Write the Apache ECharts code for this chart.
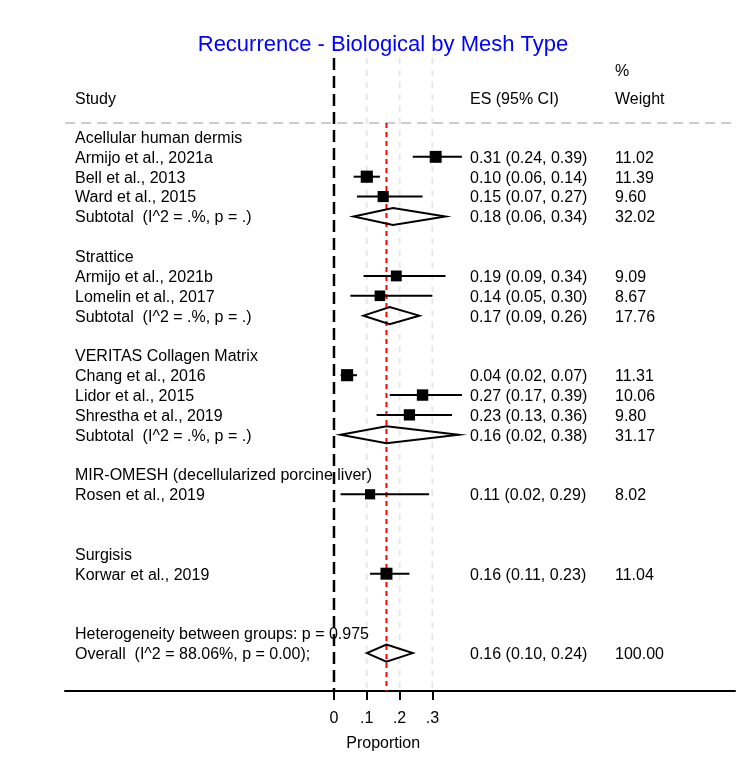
<!DOCTYPE html>
<html><head><meta charset="utf-8">
<script src="https://cdn.jsdelivr.net/npm/echarts@6/dist/echarts.min.js"></script>
<style>html,body{margin:0;padding:0;background:#fff}#c{width:750px;height:781px}</style>
</head><body><div id="c"></div>
<script>
// ---------- data ----------
const chartTitle = "Recurrence - Biological by Mesh Type";
const axisTitle = "Proportion";
const headerStudy = "Study";
const headerES = "ES (95% CI)";
const headerWeight1 = "%";
const headerWeight2 = "Weight";

const groupNames = ["Acellular human dermis", "Strattice", "VERITAS Collagen Matrix",
  "MIR-OMESH (decellularized porcine liver)", "Surgisis"];
const groupRows = [0, 6, 11, 17, 21];

const studyNames = ["Armijo et al., 2021a", "Bell et al., 2013", "Ward et al., 2015",
  "Armijo et al., 2021b", "Lomelin et al., 2017",
  "Chang et al., 2016", "Lidor et al., 2015", "Shrestha et al., 2019",
  "Rosen et al., 2019", "Korwar et al., 2019"];
const studyRows = [1, 2, 3, 7, 8, 12, 13, 14, 18, 22];
const studyES = [0.31, 0.10, 0.15, 0.19, 0.14, 0.04, 0.27, 0.23, 0.11, 0.16];
const studyLo = [0.24, 0.06, 0.07, 0.09, 0.05, 0.02, 0.17, 0.13, 0.02, 0.11];
const studyHi = [0.39, 0.14, 0.27, 0.34, 0.30, 0.07, 0.39, 0.36, 0.29, 0.23];
const studyWeight = [11.02, 11.39, 9.60, 9.09, 8.67, 11.31, 10.06, 9.80, 8.02, 11.04];

const subtotalLabels = ["Subtotal  (I^2 = .%, p = .)", "Subtotal  (I^2 = .%, p = .)", "Subtotal  (I^2 = .%, p = .)"];
const subtotalRows = [4, 9, 15];
const subtotalES = [0.18, 0.17, 0.16];
const subtotalLo = [0.06, 0.09, 0.02];
const subtotalHi = [0.34, 0.26, 0.38];
const subtotalWeight = [32.02, 17.76, 31.17];

const heterogeneityText = "Heterogeneity between groups: p = 0.975";
const heterogeneityRow = 25;
const overallLabel = "Overall  (I^2 = 88.06%, p = 0.00);";
const overallRow = 26;
const overallES = 0.16, overallLo = 0.10, overallHi = 0.24, overallWeight = 100.00;

const xTicks = [0, 0.1, 0.2, 0.3];
const xTickLabels = ["0", ".1", ".2", ".3"];

// ---------- layout ----------
const FONT = 'Arial, "Liberation Sans", sans-serif';
const FS = 16;
const TEXT_DY = 1.5;
const COL_STUDY = 75, COL_ES = 470, COL_W = 615;
const X_MIN = -0.8201, X_MAX = 1.2226;
const Y_MIN = -3.98, Y_MAX = 27.91;
const ROW_HEAD1 = -3.38, ROW_HEAD2 = -1.96, ROW_SEP = -0.7, ROW_AXTITLE = 30.55;

const fmtCI = (e, l, h) => `${e.toFixed(2)} (${l.toFixed(2)}, ${h.toFixed(2)})`;

const texts = [];
texts.push({row: ROW_HEAD2, x: COL_STUDY, t: headerStudy});
texts.push({row: ROW_HEAD2, x: COL_ES, t: headerES});
texts.push({row: ROW_HEAD1, x: COL_W, t: headerWeight1});
texts.push({row: ROW_HEAD2, x: COL_W, t: headerWeight2});
groupNames.forEach((g, i) => texts.push({row: groupRows[i], x: COL_STUDY, t: g}));
studyNames.forEach((s, i) => {
  texts.push({row: studyRows[i], x: COL_STUDY, t: s});
  texts.push({row: studyRows[i], x: COL_ES, t: fmtCI(studyES[i], studyLo[i], studyHi[i])});
  texts.push({row: studyRows[i], x: COL_W, t: studyWeight[i].toFixed(2)});
});
subtotalLabels.forEach((s, i) => {
  texts.push({row: subtotalRows[i], x: COL_STUDY, t: s});
  texts.push({row: subtotalRows[i], x: COL_ES, t: fmtCI(subtotalES[i], subtotalLo[i], subtotalHi[i])});
  texts.push({row: subtotalRows[i], x: COL_W, t: subtotalWeight[i].toFixed(2)});
});
texts.push({row: heterogeneityRow, x: COL_STUDY, t: heterogeneityText});
texts.push({row: overallRow, x: COL_STUDY, t: overallLabel});
texts.push({row: overallRow, x: COL_ES, t: fmtCI(overallES, overallLo, overallHi)});
texts.push({row: overallRow, x: COL_W, t: overallWeight.toFixed(2)});

const diamonds = subtotalES.map((e, i) => [e, subtotalLo[i], subtotalHi[i], subtotalRows[i]]);
diamonds.push([overallES, overallLo, overallHi, overallRow]);

const chart = echarts.init(document.getElementById('c'), null, {renderer: 'canvas'});
const option = {
  animation: false,
  backgroundColor: '#fff',
  grid: {left: 65, right: 15, top: 58, bottom: 90},
  xAxis: {
    type: 'value', min: X_MIN, max: X_MAX,
    splitLine: {show: false},
    axisLine: {show: true, onZero: false, lineStyle: {color: '#000', width: 2}},
    axisTick: {show: true, customValues: xTicks, length: 9, lineStyle: {color: '#000', width: 2}},
    axisLabel: {show: true, customValues: xTicks, color: '#000', fontSize: FS, fontFamily: FONT, margin: 20,
      formatter: v => { const k = xTicks.findIndex(t => Math.abs(t - v) < 1e-9); return k >= 0 ? xTickLabels[k] : ''; }}
  },
  yAxis: {type: 'value', inverse: true, min: Y_MIN, max: Y_MAX, show: false},
  graphic: [{
    type: 'text', x: 383, y: 45,
    style: {text: chartTitle, fill: '#0000ff', fontSize: 22, fontFamily: FONT, align: 'center', verticalAlign: 'middle'}
  }],
  series: [
    { // reference lines and separator
      type: 'custom', clip: false, z: 1,
      data: [[0]],
      renderItem: (params, api) => {
        const children = [];
        xTicks.slice(1).forEach(t => {
          const a = api.coord([t, Y_MIN]), b = api.coord([t, Y_MAX]);
          children.push({type: 'line', shape: {x1: a[0], y1: a[1], x2: b[0], y2: b[1]},
            style: {stroke: '#e8e8e8', lineWidth: 2, lineDash: [6, 6]}});
        });
        const l = api.coord([X_MIN, ROW_SEP]), r = api.coord([X_MAX, ROW_SEP]);
        children.push({type: 'line', shape: {x1: l[0], y1: l[1], x2: r[0], y2: r[1]},
          style: {stroke: '#bdbdbd', lineWidth: 1.5, lineDash: [10, 6]}});
        const z1 = api.coord([0, Y_MIN]), z2 = api.coord([0, Y_MAX]);
        children.push({type: 'line', shape: {x1: z1[0], y1: z1[1], x2: z2[0], y2: z2[1]},
          style: {stroke: '#000', lineWidth: 2.5, lineDash: [12, 6]}});
        const o1 = api.coord([overallES, ROW_SEP]), o2 = api.coord([overallES, Y_MAX]);
        children.push({type: 'line', shape: {x1: o1[0], y1: o1[1], x2: o2[0], y2: o2[1]},
          style: {stroke: '#ff0000', lineWidth: 2, lineDash: [5, 4]}});
        return {type: 'group', children};
      }
    },
    { // study estimates
      type: 'custom', clip: false, z: 3,
      data: studyES.map((e, i) => [e, studyLo[i], studyHi[i], studyRows[i], studyWeight[i]]),
      encode: {x: [0, 1, 2], y: 3},
      renderItem: (params, api) => {
        const y = api.value(3);
        const p = api.coord([api.value(0), y]);
        const lo = api.coord([api.value(1), y]);
        const hi = api.coord([api.value(2), y]);
        const s = 3.6 * Math.sqrt(api.value(4));
        return {type: 'group', children: [
          {type: 'line', shape: {x1: lo[0], y1: lo[1], x2: hi[0], y2: hi[1]}, style: {stroke: '#000', lineWidth: 2}},
          {type: 'rect', shape: {x: p[0] - s / 2, y: p[1] - s / 2, width: s, height: s}, style: {fill: '#000'}}
        ]};
      }
    },
    { // pooled diamonds
      type: 'custom', clip: false, z: 3,
      data: diamonds,
      encode: {x: [0, 1, 2], y: 3},
      renderItem: (params, api) => {
        const y = api.value(3);
        const p = api.coord([api.value(0), y]);
        const lo = api.coord([api.value(1), y]);
        const hi = api.coord([api.value(2), y]);
        const h = 8.5;
        return {type: 'polygon', shape: {points: [[lo[0], lo[1]], [p[0], p[1] - h], [hi[0], hi[1]], [p[0], p[1] + h]]},
          style: {fill: 'none', stroke: '#000', lineWidth: 2}};
      }
    },
    { // text columns
      type: 'custom', clip: false, z: 5,
      data: texts.map(t => [0, t.row]),
      encode: {x: 0, y: 1},
      renderItem: (params, api) => {
        const t = texts[params.dataIndex];
        const y = api.coord([0, api.value(1)])[1] + TEXT_DY;
        return {type: 'text', x: t.x, y: y,
          style: {text: t.t, fill: '#000', fontSize: FS, fontFamily: FONT, align: 'left', verticalAlign: 'middle'}};
      }
    },
    { // axis title
      type: 'custom', clip: false, z: 5,
      data: [[0.15, ROW_AXTITLE]],
      encode: {x: 0, y: 1},
      renderItem: (params, api) => {
        const p = api.coord([api.value(0), api.value(1)]);
        return {type: 'text', x: p[0], y: p[1],
          style: {text: axisTitle, fill: '#000', fontSize: FS, fontFamily: FONT, align: 'center', verticalAlign: 'middle'}};
      }
    }
  ]
};
chart.setOption(option);
</script>
</body></html>
